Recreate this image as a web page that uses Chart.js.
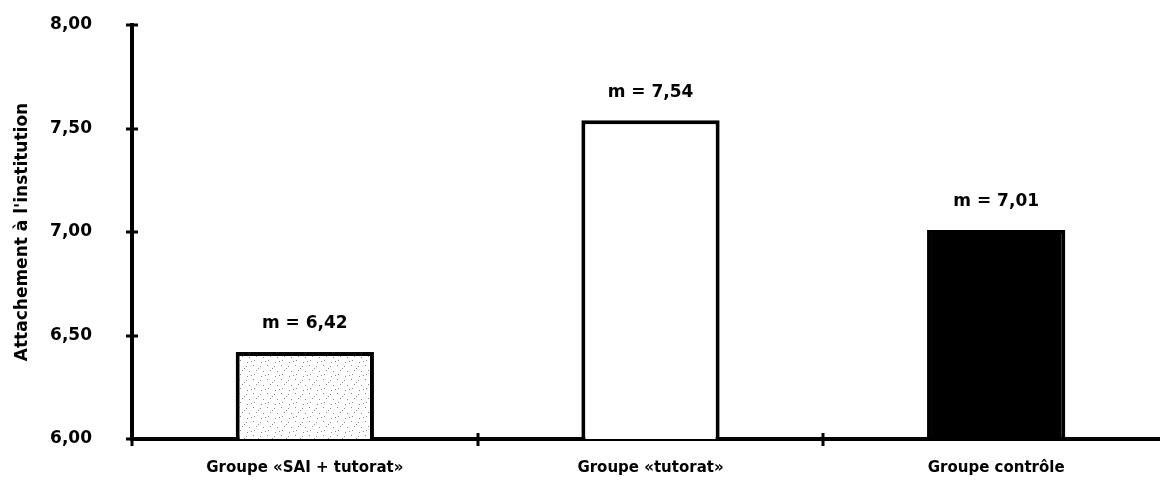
<!DOCTYPE html>
<html>
<head>
<meta charset="utf-8">
<script src="https://cdn.jsdelivr.net/npm/chart.js@4"></script>
<style>
  html, body { margin:0; padding:0; background:#fff; overflow:hidden; }
  #wrap { width:1170px; height:484px; }
</style>
</head>
<body>
<div id="wrap"><canvas id="c"></canvas></div>
<script>
const categories = ['Groupe «SAI + tutorat»', 'Groupe «tutorat»', 'Groupe contrôle'];
const means = [6.42, 7.54, 7.01];
const valueLabels = ['m = 6,42', 'm = 7,54', 'm = 7,01'];
const yTickValues = [6.0, 6.5, 7.0, 7.5, 8.0];
const yTickLabels = ['6,00', '6,50', '7,00', '7,50', '8,00'];
const yTitle = "Attachement à l'institution";

function makeStipple() {
  const c = document.createElement('canvas');
  c.width = 14; c.height = 14;
  const g = c.getContext('2d');
  g.fillStyle = '#ffffff'; g.fillRect(0, 0, 14, 14);
  g.fillStyle = '#8a8a8a';
  const dots = [[1,1],[8,2],[4,6],[11,7],[2,10],[9,12],[6,4],[13,11]];
  dots.forEach(([x, y]) => g.fillRect(x, y, 1, 1));
  return g.createPattern(c, 'repeat');
}
const ctx = document.getElementById('c').getContext('2d');
const stipple = makeStipple();
const FONT = "'DejaVu Sans', sans-serif";
function zeroPad(s) { s.paddingTop = 0; s.paddingBottom = 0; s.paddingLeft = 0; s.paddingRight = 0; }

const tickMarks = {
  id: 'tickMarks',
  afterDraw(chart) {
    const g = chart.ctx;
    const ys = chart.scales.y, xs = chart.scales.x;
    g.save();
    g.strokeStyle = '#000';
    g.lineWidth = 3;
    const ax = ys.right;
    yTickValues.forEach(v => {
      const py = Math.round(ys.getPixelForValue(v));
      g.beginPath(); g.moveTo(ax - 6, py); g.lineTo(ax + 6, py); g.stroke();
    });
    const ay = xs.top;
    const step = categories.length > 1 ? (xs.getPixelForTick(1) - xs.getPixelForTick(0)) : xs.width;
    for (let i = 0; i <= categories.length; i++) {
      let px = i < categories.length ? xs.getPixelForTick(i) - step / 2 : xs.right;
      px = Math.round(px);
      g.beginPath(); g.moveTo(px, ay - 6); g.lineTo(px, ay + 7); g.stroke();
    }
    g.fillStyle = '#000';
    g.font = "bold 17px " + FONT;
    g.textAlign = 'center';
    g.textBaseline = 'middle';
    const meta = chart.getDatasetMeta(0);
    meta.data.forEach((bar, i) => {
      g.fillText(valueLabels[i], bar.x, bar.y - 28);
    });
    g.restore();
  }
};

new Chart(ctx, {
  type: 'bar',
  data: {
    labels: categories,
    datasets: [{
      data: means,
      backgroundColor: [stipple, '#ffffff', '#000000'],
      borderColor: '#000',
      borderWidth: 4,
      barPercentage: 0.4,
      categoryPercentage: 1.0,
      base: 6
    }]
  },
  options: {
    responsive: true,
    maintainAspectRatio: false,
    animation: false,
    layout: { padding: { top: 25, right: 1, left: 0, bottom: 0 } },
    plugins: { legend: { display: false }, tooltip: { enabled: false } },
    scales: {
      x: {
        offset: true,
        grid: { display: false, drawTicks: false },
        border: { display: true, color: '#000', width: 4 },
        ticks: { color: '#000', padding: 20, font: { family: FONT, size: 15, weight: 'bold' } },
        afterFit(s) { s.height = 45; zeroPad(s); }
      },
      y: {
        min: 6, max: 8,
        grid: { display: false, drawTicks: false },
        border: { display: true, color: '#000', width: 4 },
        afterBuildTicks(s) { s.ticks = yTickValues.map(v => ({ value: v })); },
        ticks: { color: '#000', padding: 40, font: { family: FONT, size: 17, weight: 'bold' }, callback: (v, i) => yTickLabels[i] },
        title: { display: true, text: yTitle, color: '#000', font: { family: FONT, size: 17, weight: 'bold' }, padding: { top: 12, bottom: 0 } },
        afterFit(s) { s.width = 132; zeroPad(s); }
      }
    }
  },
  plugins: [tickMarks]
});
</script>
</body>
</html>
